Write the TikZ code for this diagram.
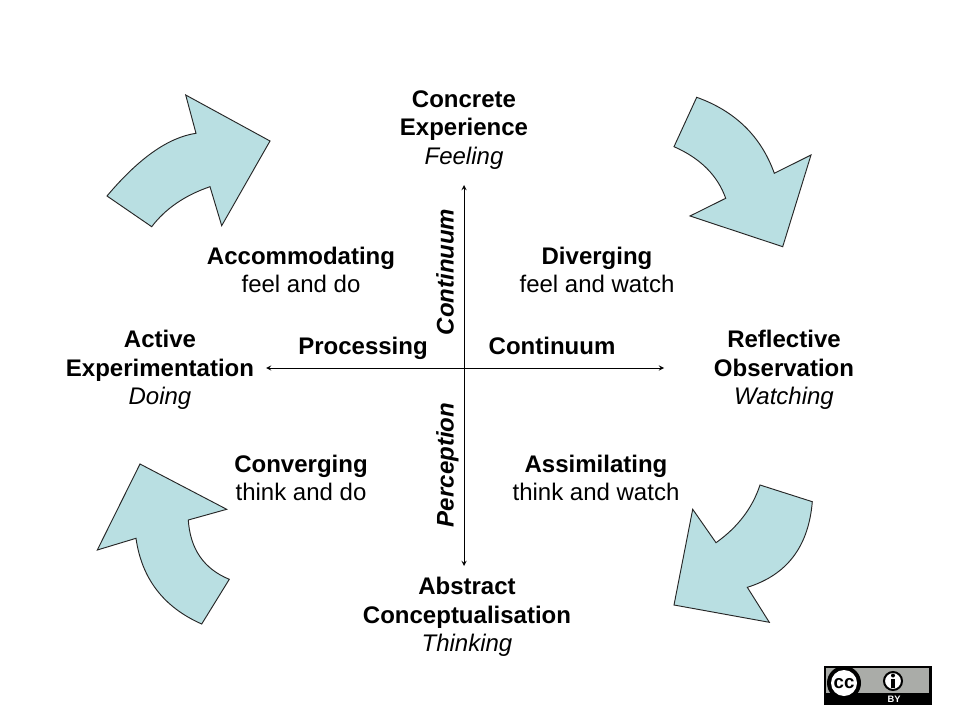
\documentclass[tikz,border=0pt]{standalone}
\usepackage{fontspec}
\setmainfont{Liberation Sans}
\usetikzlibrary{arrows,positioning}
\definecolor{cyclefill}{RGB}{185,223,226}
\definecolor{ccgrey}{RGB}{170,172,168}
\tikzset{
	pole/.style={
		align=center,
		inner sep=0pt,
		font=\fontsize{18}{21.4}\selectfont,
	},
	cyclearrow/.style={
		draw=black!85,
		fill=cyclefill,
		line width=0.7pt,
		line join=miter,
	},
}

\begin{document}
\begin{tikzpicture}[x=0.75pt, y=-0.75pt, >=stealth]

	\tikzstyle{axisname}=[font=\fontsize{18}{21.4}\selectfont\bfseries\itshape, rotate=90, inner sep=0pt, anchor=base]

	\useasboundingbox [fill=white] (0,0) rectangle (960,720);

	% curved cycle arrows
	\path [cyclearrow] (107,196) .. controls (138.7,158.3) and (168.3,137.4) .. (196,133.3) -- (185.7,95) -- (270,141) -- (221.7,225.7) -- (210,186.7) .. controls (184.9,195.3) and (165.5,208.6) .. (151.7,226.7) -- cycle;
	\path [cyclearrow] (696.7,97.3) .. controls (735.2,111.1) and (761.1,136.4) .. (774.3,173.3) -- (811,155) -- (782.7,246.7) -- (690,216) -- (725.7,198.3) .. controls (717.6,175.5) and (700.4,158.3) .. (674,146.7) -- cycle;
	\path [cyclearrow] (812.3,501.7) .. controls (808.6,546.5) and (787,575) .. (747.3,587.3) -- (769.3,622.3) -- (674,605) -- (692.7,509.3) -- (716,542.7) .. controls (737.7,527.3) and (752.4,508.1) .. (760,485) -- cycle;
	\path [cyclearrow] (201.7,624) .. controls (163.6,607.2) and (141.7,578.6) .. (136,538.3) -- (97.3,550) -- (140,464) -- (226.7,509.3) -- (188.3,520) .. controls (190.2,549.1) and (203.9,568.9) .. (229.3,579.3) -- cycle;

	% axes
	\coordinate (top) at (464,185);
	\coordinate (bottom) at (464,566);
	\coordinate (left) at (266,368);
	\coordinate (right) at (664,368);
	\draw [<->, line width=0.75pt] (left) -- (right);
	\draw [<->, line width=0.75pt] (bottom) -- (top);

	\node [axisname] (perc) at (453.5,272) {Continuum};
	\node [axisname] (percb) at (453.5,465) {Perception};
	\node [pole, anchor=base] (proc) at (363,354.5) {\bfseries Processing};
	\node [pole, anchor=base] (procb) at (552,354.5) {\bfseries Continuum};

	% the four poles
	\node [pole] (CE) at (464,130) {\bfseries Concrete\\\bfseries Experience\\\itshape Feeling};
	\node [pole] (RO) at (784,370) {\bfseries Reflective\\\bfseries Observation\\\itshape Watching};
	\node [pole] (AC) at (467,617) {\bfseries Abstract\\\bfseries Conceptualisation\\\itshape Thinking};
	\node [pole] (AE) at (160,370) {\bfseries Active\\\bfseries Experimentation\\\itshape Doing};

	% the four styles
	\node [pole] (div) at (597,270) {\bfseries Diverging\\feel and watch};
	\node [pole] (acc) at (301,270) {\bfseries Accommodating\\feel and do};
	\node [pole] (con) at (301,478) {\bfseries Converging\\think and do};
	\node [pole] (ass) at (596,478) {\bfseries Assimilating\\think and watch};

	% licence badge
	\fill [black] (824,666) rectangle (932,705);
	\fill [ccgrey] (826,668) rectangle (929,693);
	\fill [black] (844,683) circle (17);
	\fill [white] (844,683) circle (13);
	\node [font=\fontsize{14}{14}\selectfont\bfseries, inner sep=0pt] (cc) at (844,684) {cc};
	\draw [black, fill=white, line width=1.5pt] (893,681) circle (9);
	\fill [black] (893,675.5) circle (2);
	\fill [black] (890.8,679) rectangle (895.2,687.5);
	\node [font=\fontsize{7}{7}\selectfont\bfseries, text=white, inner sep=0pt] (by) at (894,699) {BY};

\end{tikzpicture}
\end{document}
